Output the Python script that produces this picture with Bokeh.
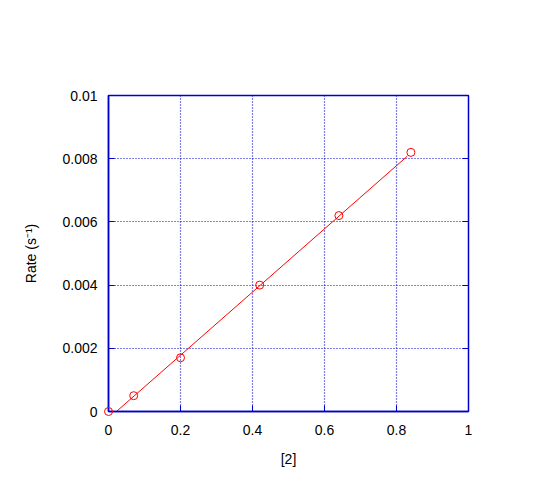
from bokeh.plotting import figure
from bokeh.models import FixedTicker, LinearAxis, Range1d
from bokeh.embed import file_html
from bokeh.resources import INLINE

# data
conc = [0.0, 0.07, 0.2, 0.42, 0.64, 0.84]
rate = [0.0, 0.0005, 0.0017, 0.004, 0.0062, 0.0082]
fit_x = [0.022, 0.83]
fit_slope = 0.01
fit_intercept = -0.00022
x_ticks = [0, 0.2, 0.4, 0.6, 0.8, 1]
x_labels = ["0", "0.2", "0.4", "0.6", "0.8", "1"]
y_ticks = [0, 0.002, 0.004, 0.006, 0.008, 0.01]
y_labels = ["0", "0.002", "0.004", "0.006", "0.008", "0.01"]

fit_y = [fit_slope * x + fit_intercept for x in fit_x]

BLUE = "#0000cc"
FONT = "Liberation Sans"

p = figure(width=532, height=469, output_backend="svg", toolbar_location=None,
           x_range=Range1d(0, 1), y_range=Range1d(0, 0.01),
           min_border_left=108, min_border_right=64, min_border_top=95, min_border_bottom=56,
           x_axis_label="[2]", y_axis_label="Rate (s\u207b\u00b9)")
p.outline_line_color = BLUE
p.outline_line_width = 1.5
p.background_fill_color = "white"
p.border_fill_color = "white"

p.xaxis.ticker = FixedTicker(ticks=x_ticks)
p.yaxis.ticker = FixedTicker(ticks=y_ticks)
p.xaxis.major_label_overrides = {t: l for t, l in zip(x_ticks, x_labels)}
p.yaxis.major_label_overrides = {t: l for t, l in zip(y_ticks, y_labels)}

for ax in (p.xaxis, p.yaxis):
    ax.axis_line_color = BLUE
    ax.axis_line_width = 1.5
    ax.major_tick_line_color = BLUE
    ax.major_tick_in = 6
    ax.major_tick_out = 0
    ax.minor_tick_line_color = None
    ax.major_label_text_font = FONT
    ax.major_label_text_font_size = "14px"
    ax.major_label_text_color = "black"
    ax.axis_label_text_font = FONT
    ax.axis_label_text_font_size = "14px"
    ax.axis_label_text_font_style = "normal"
    ax.axis_label_text_color = "black"

p.xaxis.major_label_standoff = 13
p.yaxis.major_label_standoff = 11
p.xaxis.axis_label_standoff = 13
p.yaxis.axis_label_standoff = 20

right = LinearAxis(ticker=FixedTicker(ticks=y_ticks), major_label_text_font_size="0px",
                   axis_line_color=BLUE, major_tick_line_color=BLUE, major_tick_in=6,
                   major_tick_out=0, minor_tick_line_color=None)
p.add_layout(right, "right")

p.grid.grid_line_color = BLUE
p.grid.grid_line_dash = "1 2"
p.grid.grid_line_width = 1.2
p.xgrid.ticker = FixedTicker(ticks=x_ticks)
p.ygrid.ticker = FixedTicker(ticks=y_ticks)

p.line(fit_x, fit_y, line_color="red", line_width=1)
p.scatter(conc, rate, marker="circle", size=8, fill_color=None, line_color="red",
          line_width=1, level="overlay")

open("out.html", "w").write(file_html(p, INLINE))
